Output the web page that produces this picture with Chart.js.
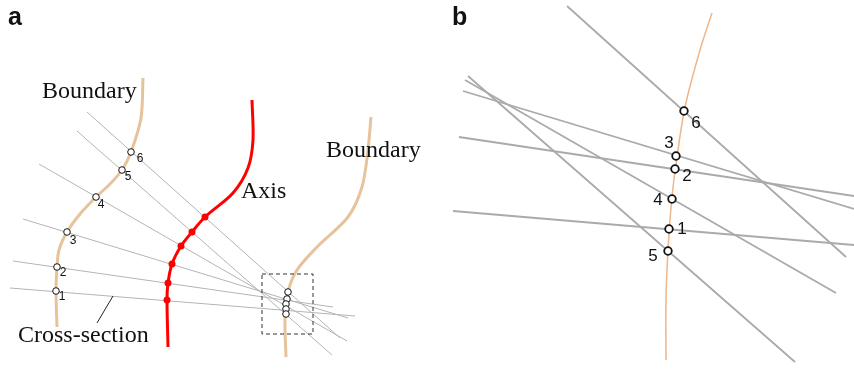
<!DOCTYPE html>
<html>
<head>
<meta charset="utf-8">
<script src="https://cdn.jsdelivr.net/npm/chart.js@4/dist/chart.umd.min.js"></script>
<style>
  html, body { margin: 0; padding: 0; background: #fff; }
  #wrap { width: 854px; height: 369px; }
</style>
</head>
<body>
<div id="wrap"><canvas id="fig"></canvas></div>
<script>
// panel a: curves (x, y in image pixels)
const leftBoundary = [[143,78],[141,118],[131,152],[122,170],[110,184],[96,197],[80,214],[67,232],[59,250],[57,267],[56,291],[57,327]];
const axisCurve = [[252,100],[253,140],[248,168],[233,193],[205,217],[192,232],[181,246],[172,264],[168,283],[167,300],[168,347]];
const rightBoundary = [[371,117],[368,150],[362,187],[348,217],[317,247],[297,270],[288,292],[285,320],[286,357]];

// cross-sections 1..6: start and end of each line
const sectionStartA = [[10,288],[13,261],[23,219],[39,164],[77,131],[87,112]];
const sectionEndA   = [[355,316],[333,307],[348,318],[347,341],[332,355],[340,338]];
const boundaryPtsA  = [[56,291],[57,267],[67,232],[96,197],[122,170],[131,152]];
const axisPtsA      = [[167,300],[168,283],[172,264],[181,246],[192,232],[205,217]];
const rightPtsA     = [[288,292],[287,299],[286,304],[286,309],[286,314]];
const ptLabelsA     = ['1','2','3','4','5','6'];
const ptLabelPosA   = [[62,297],[63,273],[73,241],[101,205],[128,177],[140,159]];
const zoomBox       = [[262,274],[313,274],[313,334],[262,334],[262,274]];
const leaderLine    = [[97,323],[113,296]];

// panel b: zoomed view
const curveB = [[712,13],[700,50],[685,107],[677,157],[672,197],[668,250],[666,300],[666,360]];
const sectionStartB = [[453,211],[459,137],[463,91],[465,80],[468,76],[567,6]];
const sectionEndB   = [[854,245],[854,196],[854,209],[836,293],[795,362],[846,257]];
const ptsB          = [[669,229],[675,169],[676,156],[672,199],[668,251],[684,111]];
const ptLabelPosB   = [[682,229],[687,176],[669,143],[658,200],[653,256],[696,123]];

const textLabels = [
  { text: 'a', x: 8, y: 25, font: 'bold 25px "Liberation Sans", Arial, sans-serif' },
  { text: 'b', x: 452, y: 25, font: 'bold 25px "Liberation Sans", Arial, sans-serif' },
  { text: 'Boundary', x: 42, y: 98, font: '24px "Liberation Serif", "Times New Roman", serif' },
  { text: 'Boundary', x: 326, y: 157, font: '24px "Liberation Serif", "Times New Roman", serif' },
  { text: 'Axis', x: 241, y: 198, font: '24px "Liberation Serif", "Times New Roman", serif' },
  { text: 'Cross-section', x: 18, y: 342, font: '24px "Liberation Serif", "Times New Roman", serif' }
];

const xy = arr => arr.map(p => ({ x: p[0], y: p[1] }));

function lineSet(points, color, width, extra) {
  return Object.assign({
    data: xy(points),
    showLine: true,
    borderColor: color,
    borderWidth: width,
    pointRadius: 0,
    fill: false,
    clip: false
  }, extra || {});
}

function pointSet(points, fill, stroke, r, bw) {
  return {
    data: xy(points),
    showLine: false,
    pointRadius: r,
    pointBackgroundColor: fill,
    pointBorderColor: stroke,
    pointBorderWidth: bw,
    clip: false
  };
}

// build bottom layer first, then flip: Chart.js paints dataset 0 on top
const datasets = [];
sectionStartA.forEach((s, i) => {
  datasets.push(lineSet([s, sectionEndA[i]], '#b4b4b4', 1));
});
sectionStartB.forEach((s, i) => {
  datasets.push(lineSet([s, sectionEndB[i]], '#aaaaaa', 1.8));
});
datasets.push(lineSet(leftBoundary, '#e6c39b', 3, { tension: 0.3 }));
datasets.push(lineSet(rightBoundary, '#e6c39b', 3, { tension: 0.3 }));
datasets.push(lineSet(axisCurve, '#ff0000', 3, { tension: 0.3 }));
datasets.push(lineSet(curveB, '#eeb68a', 1.5, { tension: 0.3 }));
datasets.push(lineSet(zoomBox, '#333333', 1, { borderDash: [4, 3] }));
datasets.push(lineSet(leaderLine, '#222222', 1));
datasets.push(pointSet(axisPtsA, '#ff0000', '#ff0000', 3.5, 0));
datasets.push(pointSet(boundaryPtsA, '#ffffff', '#111111', 3.3, 1));
datasets.push(pointSet(rightPtsA, '#ffffff', '#111111', 3.3, 1));
datasets.push(pointSet(ptsB, '#ffffff', '#111111', 3.8, 1.8));
datasets.reverse();

const textPlugin = {
  id: 'textPlugin',
  afterDatasetsDraw(chart) {
    const ctx = chart.ctx;
    const sx = chart.scales.x, sy = chart.scales.y;
    ctx.save();
    ctx.fillStyle = '#111';
    ctx.textBaseline = 'alphabetic';
    ctx.textAlign = 'left';
    textLabels.forEach(t => {
      ctx.font = t.font;
      ctx.fillText(t.text, sx.getPixelForValue(t.x), sy.getPixelForValue(t.y));
    });
    ctx.textAlign = 'center';
    ctx.textBaseline = 'middle';
    ctx.font = '12px "Liberation Sans", Arial, sans-serif';
    ptLabelPosA.forEach((p, i) => {
      ctx.fillText(ptLabelsA[i], sx.getPixelForValue(p[0]), sy.getPixelForValue(p[1]));
    });
    ctx.font = '17px "Liberation Sans", Arial, sans-serif';
    ptLabelPosB.forEach((p, i) => {
      ctx.fillText(ptLabelsA[i], sx.getPixelForValue(p[0]), sy.getPixelForValue(p[1]));
    });
    ctx.restore();
  }
};

new Chart(document.getElementById('fig'), {
  type: 'scatter',
  data: { datasets: datasets },
  options: {
    responsive: true,
    maintainAspectRatio: false,
    animation: false,
    layout: { padding: 0, autoPadding: false },
    plugins: { legend: { display: false }, tooltip: { enabled: false } },
    scales: {
      x: { type: 'linear', min: 0, max: 854, display: false },
      y: { type: 'linear', min: 0, max: 369, reverse: true, display: false }
    }
  },
  plugins: [textPlugin]
});
</script>
</body>
</html>
